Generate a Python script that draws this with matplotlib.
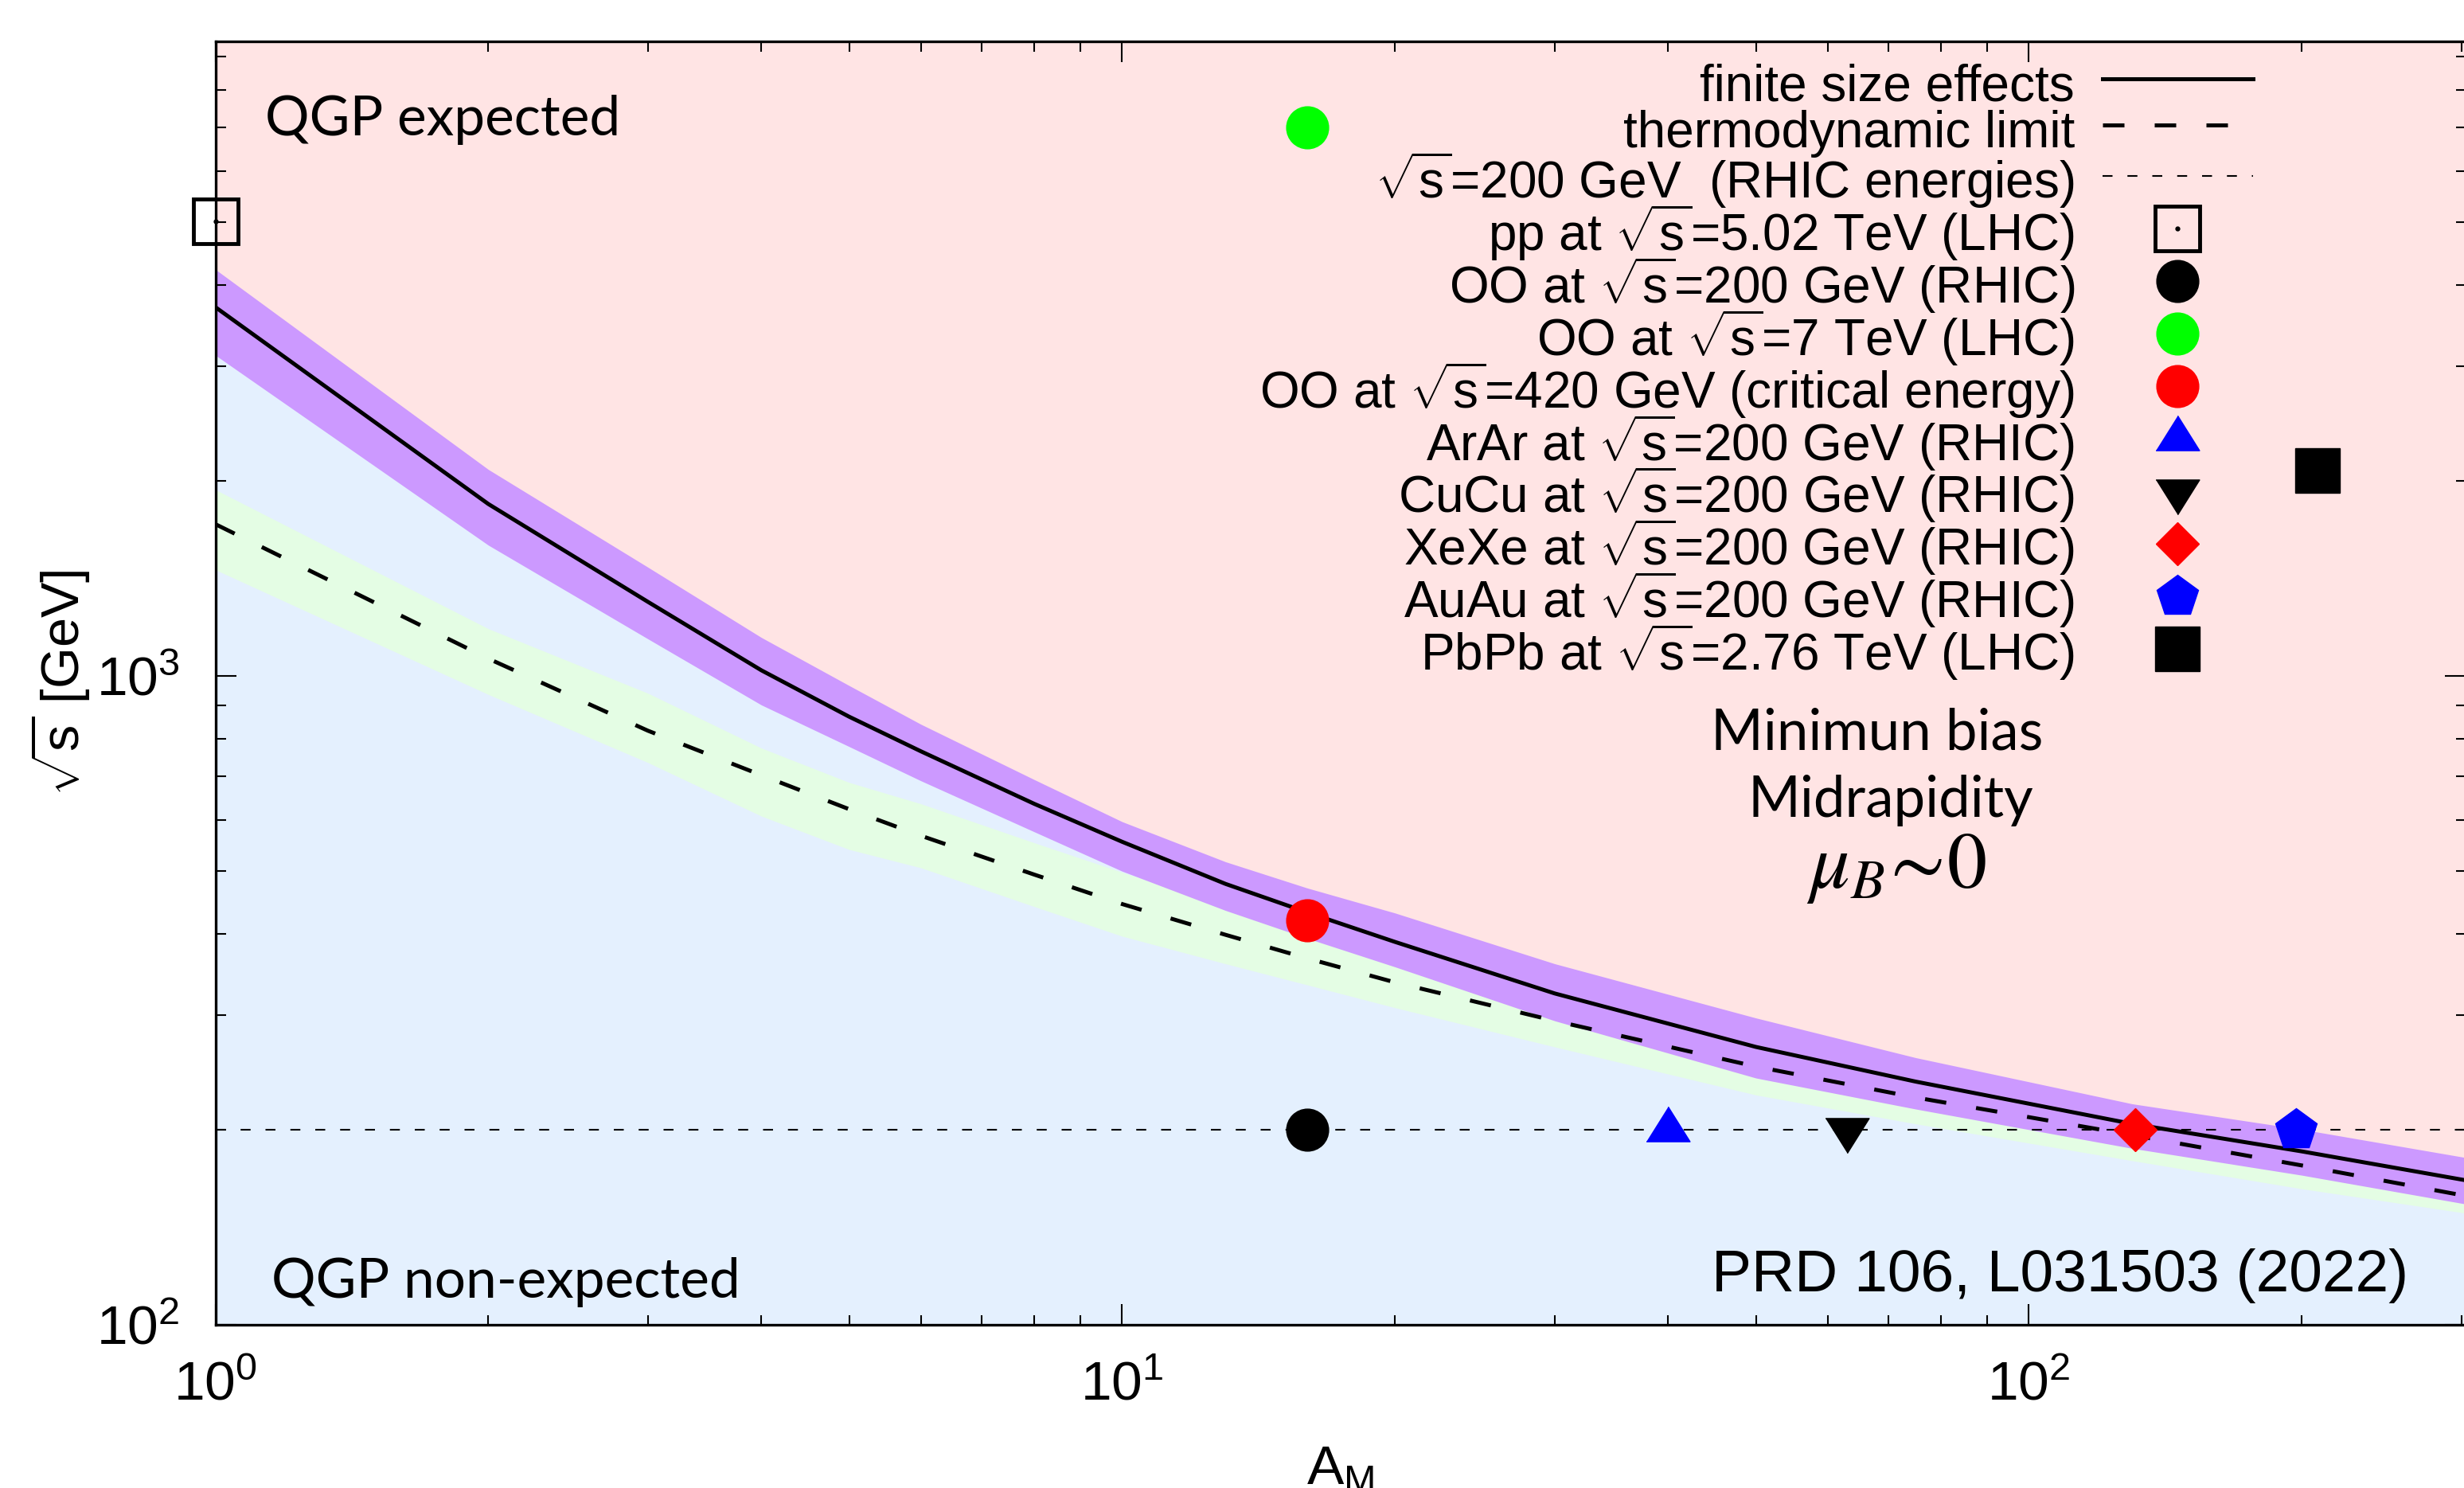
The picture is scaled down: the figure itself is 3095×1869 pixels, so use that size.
import matplotlib
matplotlib.use("Agg")
import matplotlib.pyplot as plt
from matplotlib.ticker import NullFormatter

plt.rcParams['font.family'] = ['Liberation Sans', 'DejaVu Sans']
plt.rcParams['mathtext.fontset'] = 'custom'
plt.rcParams['mathtext.rm'] = 'Liberation Sans'
plt.rcParams['mathtext.it'] = 'Liberation Sans:italic'
plt.rcParams['mathtext.bf'] = 'Liberation Sans:bold'

# mass number grid and the two critical-energy curves (GeV)
A_grid = [1, 2, 3, 4, 5, 6, 8, 10, 13, 16, 20, 30, 50, 75, 130, 200, 303]
finite_size = [3700, 1840, 1300, 1020, 865, 765, 635, 555, 478, 432, 389, 324, 268, 237, 204, 185, 167]
finite_hi = [4230, 2080, 1470, 1146, 966, 842, 692, 596, 517, 471, 431, 360, 297, 258, 219, 200, 181]
finite_lo = [3120, 1590, 1140, 902, 778, 689, 575, 500, 435, 394, 356, 294, 240, 215, 187, 170, 153.5]
thermo = [1713, 1063, 823, 703, 623, 567, 494, 445, 399, 367, 337, 294, 250, 224, 196, 176, 158]
thermo_hi = [1936, 1182, 940, 774, 685, 635, 553, 498, 442, 403, 369, 322, 276, 246, 215, 191, 168]
thermo_lo = [1457, 936, 735, 608, 540, 506, 441, 397, 360, 334, 308, 268, 226, 204, 179, 162, 148.6]

rhic_energy = 200

# collision systems: (A, sqrt(s) in GeV)
pp_point = (1, 5020)
oo_rhic = (16, 200)
oo_lhc = (16, 7000)
oo_crit = (16, 420)
arar = (40, 200)
cucu = (63, 200)
xexe = (131, 200)
auau = (197, 200)
pbpb = (208, 2070)

x_lim = (1, 303)
y_lim = (100, 9500)

fig = plt.figure(figsize=(30.95, 18.69), dpi=100)
ax = fig.add_axes([0.0874, 0.1097, 0.9132, 0.8625])
ax.set_xscale('log')
ax.set_yscale('log')
ax.set_xlim(*x_lim)
ax.set_ylim(*y_lim)
ax.set_facecolor('#ffe4e4')

ax.fill_between(A_grid, y_lim[0], finite_size, color='#e4f0fe', lw=0, zorder=1.0)
ax.fill_between(A_grid, thermo_lo, thermo_hi, color='#e4fde4', lw=0, zorder=1.2)
ax.fill_between(A_grid, finite_lo, finite_hi, color='#cc99ff', lw=0, zorder=1.4)

lw = 3.6
h_finite, = ax.plot(A_grid, finite_size, color='k', lw=lw, zorder=4)
h_thermo, = ax.plot(A_grid, thermo, color='k', lw=lw, ls=(0, (5.4, 7.6)), zorder=4)
h_rhic = ax.axhline(rhic_energy, color='k', lw=1.5, ls=(0, (6, 9)), zorder=4)

tri_up = [(-0.94, -0.5), (0.94, -0.5), (0, 1)]
tri_down = [(-0.94, 0.5), (0.94, 0.5), (0, -1)]

mk = dict(ls='none', zorder=6)
h_pp_box, = ax.plot(*pp_point, marker='s', ms=40, mfc='none', mec='k', mew=3.5, clip_on=False, **mk)
h_pp_dot, = ax.plot(*pp_point, marker='o', ms=3.5, color='k', clip_on=False, **mk)
h_oo200, = ax.plot(*oo_rhic, marker='o', ms=38, color='k', **mk)
h_oo7, = ax.plot(*oo_lhc, marker='o', ms=38, color='#00ff00', **mk)
h_oo420, = ax.plot(*oo_crit, marker='o', ms=38, color='#ff0000', **mk)
h_arar, = ax.plot(*arar, marker=tri_up, ms=42, color='#0000ff', **mk)
h_cucu, = ax.plot(*cucu, marker=tri_down, ms=42, color='k', **mk)
h_xexe, = ax.plot(*xexe, marker='D', ms=27.5, color='#ff0000', **mk)
h_auau, = ax.plot(*auau, marker='p', ms=39, color='#0000ff', **mk)
h_pbpb, = ax.plot(*pbpb, marker='s', ms=40, color='k', **mk)

sq = r'$\sqrt{\mathrm{s}}$'
labels = [
    'finite size effects',
    'thermodynamic limit',
    sq + '=200 GeV  (RHIC energies)',
    'pp at ' + sq + '=5.02 TeV (LHC)',
    'OO at ' + sq + '=200 GeV (RHIC)',
    'OO at ' + sq + '=7 TeV (LHC)',
    'OO at ' + sq + '=420 GeV (critical energy)',
    'ArAr at ' + sq + '=200 GeV (RHIC)',
    'CuCu at ' + sq + '=200 GeV (RHIC)',
    'XeXe at ' + sq + '=200 GeV (RHIC)',
    'AuAu at ' + sq + '=200 GeV (RHIC)',
    'PbPb at ' + sq + '=2.76 TeV (LHC)',
]
handles = [h_finite, h_thermo, h_rhic, (h_pp_box, h_pp_dot), h_oo200, h_oo7, h_oo420,
           h_arar, h_cucu, h_xexe, h_auau, h_pbpb]
# tall handle boxes give every row the same height, negative spacing packs them like gnuplot
ax.legend(handles, labels, loc='upper right', bbox_to_anchor=(0.9057, 0.988),
          frameon=False, fontsize=46, markerfirst=False, handlelength=2.97,
          handleheight=1.25, handletextpad=0.54, labelspacing=-0.155,
          borderpad=0, borderaxespad=0, numpoints=1)

calibri = ['Lato', 'DejaVu Sans']
ax.text(0.0221, 0.9269, 'QGP expected', transform=ax.transAxes, fontsize=50,
        family=calibri, va='baseline')
ax.text(0.0250, 0.0212, 'QGP non-expected', transform=ax.transAxes, fontsize=50,
        family=calibri, va='baseline')
ax.text(0.9745, 0.0261, 'PRD 106, L031503 (2022)', transform=ax.transAxes, fontsize=54,
        ha='right', va='baseline')
ax.text(0.7385, 0.4481, 'Minimun bias', transform=ax.transAxes, fontsize=51,
        family=calibri, ha='center', va='baseline')
ax.text(0.7444, 0.3955, 'Midrapidity', transform=ax.transAxes, fontsize=51,
        family=calibri, ha='center', va='baseline')
ax.text(0.747, 0.3404, r'$\mu_B\!\sim\!0$', transform=ax.transAxes, fontsize=72,
        math_fontfamily='stix', ha='center', va='baseline')

ax.set_xlabel(r'A$_{\mathrm{M}}$', fontsize=50)
ax.set_ylabel(sq + ' [GeV]', fontsize=48)
ax.xaxis.set_label_coords(0.5, -0.093)
ax.yaxis.set_label_coords(-0.055, 0.5)

ax.tick_params(which='both', direction='in', top=True, right=True, width=1.5, labelsize=50)
ax.tick_params(which='major', length=19)
ax.tick_params(which='minor', length=9)
ax.tick_params(axis='x', which='both', pad=32)
ax.tick_params(axis='y', which='both', pad=32)
ax.xaxis.set_minor_formatter(NullFormatter())
ax.yaxis.set_minor_formatter(NullFormatter())
for s in ax.spines.values():
    s.set_linewidth(2.4)
    s.set_zorder(5)

fig.savefig('out.png', dpi=100)
